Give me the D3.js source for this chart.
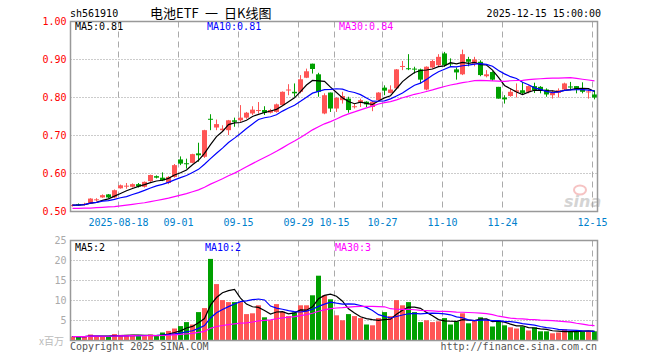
<!DOCTYPE html>
<html><head><meta charset="utf-8">
<script src="https://cdn.jsdelivr.net/npm/d3@7"></script>
<style>body{margin:0;background:#fff}svg{display:block}</style>
</head><body><svg id="c" width="660" height="360"></svg>
<script>
const dates = ["2025-08-06","2025-08-07","2025-08-08","2025-08-11","2025-08-12","2025-08-13","2025-08-14","2025-08-15","2025-08-18","2025-08-19","2025-08-20","2025-08-21","2025-08-22","2025-08-25","2025-08-26","2025-08-27","2025-08-28","2025-08-29",
"2025-09-01","2025-09-02","2025-09-03","2025-09-04","2025-09-05","2025-09-08","2025-09-09","2025-09-10","2025-09-11","2025-09-12","2025-09-15","2025-09-16","2025-09-17","2025-09-18","2025-09-19","2025-09-22","2025-09-23","2025-09-24","2025-09-25","2025-09-26","2025-09-29","2025-09-30",
"2025-10-09","2025-10-10","2025-10-13","2025-10-14","2025-10-15","2025-10-16","2025-10-17","2025-10-20","2025-10-21","2025-10-22","2025-10-23","2025-10-24","2025-10-27","2025-10-28","2025-10-29","2025-10-30","2025-10-31",
"2025-11-03","2025-11-04","2025-11-05","2025-11-06","2025-11-07","2025-11-10","2025-11-11","2025-11-12","2025-11-13","2025-11-14","2025-11-17","2025-11-18","2025-11-19","2025-11-20","2025-11-21","2025-11-24","2025-11-25","2025-11-26","2025-11-27","2025-11-28",
"2025-12-01","2025-12-02","2025-12-03","2025-12-04","2025-12-05","2025-12-08","2025-12-09","2025-12-10","2025-12-11","2025-12-12","2025-12-15"];

const open = [0.515,0.519,0.519,0.521,0.530,0.537,0.545,0.537,0.561,0.567,
0.565,0.572,0.565,0.580,0.593,0.589,0.575,0.591,0.637,0.627,
0.628,0.653,0.644,0.744,0.721,0.714,0.714,0.740,0.740,0.747,
0.758,0.766,0.767,0.760,0.762,0.780,0.820,0.815,0.815,0.852,
0.889,0.861,0.758,0.813,0.771,0.793,0.797,0.776,0.788,0.789,
0.775,0.793,0.826,0.812,0.824,0.882,0.877,0.876,0.874,0.821,
0.879,0.885,0.916,0.890,0.874,0.861,0.901,0.889,0.894,0.856,
0.867,0.828,0.800,0.804,0.815,0.819,0.815,0.830,0.828,0.821,
0.806,0.812,0.821,0.829,0.830,0.821,0.815,0.808];

const close = [0.517,0.517,0.520,0.534,0.532,0.543,0.537,0.556,0.569,0.568,
0.572,0.566,0.578,0.596,0.589,0.582,0.591,0.622,0.626,0.626,
0.651,0.648,0.714,0.742,0.730,0.718,0.740,0.736,0.747,0.760,
0.768,0.767,0.760,0.767,0.782,0.815,0.821,0.811,0.848,0.869,
0.875,0.815,0.806,0.771,0.799,0.804,0.767,0.777,0.793,0.782,
0.789,0.813,0.818,0.821,0.874,0.883,0.876,0.875,0.847,0.881,
0.896,0.907,0.885,0.889,0.866,0.914,0.894,0.900,0.859,0.861,
0.847,0.797,0.795,0.815,0.819,0.812,0.830,0.819,0.818,0.808,
0.812,0.819,0.837,0.828,0.821,0.815,0.816,0.800];

const high = [0.519,0.521,0.523,0.535,0.535,0.545,0.546,0.558,0.571,0.575,
0.574,0.575,0.579,0.597,0.595,0.603,0.593,0.625,0.645,0.639,
0.652,0.681,0.715,0.756,0.742,0.727,0.741,0.747,0.780,0.762,
0.777,0.788,0.777,0.770,0.784,0.816,0.835,0.837,0.859,0.876,
0.889,0.865,0.811,0.813,0.801,0.815,0.802,0.784,0.797,0.790,
0.791,0.814,0.832,0.832,0.875,0.896,0.914,0.881,0.876,0.882,
0.900,0.914,0.920,0.903,0.879,0.926,0.907,0.907,0.898,0.872,
0.869,0.828,0.806,0.824,0.837,0.841,0.832,0.839,0.830,0.824,
0.819,0.824,0.839,0.841,0.830,0.840,0.821,0.819];

const low = [0.513,0.515,0.516,0.520,0.527,0.536,0.535,0.535,0.560,0.560,
0.563,0.563,0.563,0.578,0.587,0.580,0.572,0.589,0.622,0.613,
0.627,0.631,0.641,0.714,0.714,0.710,0.701,0.723,0.736,0.744,
0.754,0.758,0.754,0.758,0.760,0.778,0.806,0.802,0.811,0.851,
0.863,0.802,0.756,0.762,0.762,0.784,0.760,0.771,0.775,0.775,
0.764,0.791,0.806,0.811,0.822,0.872,0.872,0.863,0.837,0.819,
0.876,0.882,0.881,0.880,0.847,0.859,0.882,0.882,0.856,0.853,
0.844,0.797,0.784,0.802,0.800,0.809,0.811,0.812,0.811,0.802,
0.797,0.800,0.818,0.819,0.811,0.811,0.797,0.795];

// volume, in millions (x百万)
const volume = [1.0,0.9,1.0,1.5,1.0,1.0,1.0,1.6,1.4,1.4,
1.4,1.1,1.1,1.5,1.1,2.0,2.4,3.0,3.6,4.6,
4.0,7.1,8.1,20.4,14.1,10.1,9.6,9.6,9.6,6.6,
6.8,8.8,5.8,5.1,9.1,7.2,6.1,7.0,8.8,8.8,
11.3,16.2,11.3,10.3,6.3,5.05,6.6,6.1,5.6,4.0,
3.8,5.6,7.1,6.1,10.1,8.8,9.6,7.1,4.6,5.05,
4.6,4.8,5.6,4.0,4.8,6.8,4.3,5.05,5.8,5.05,
3.5,4.8,3.8,3.3,3.0,3.5,2.5,3.3,2.3,2.3,
1.8,2.0,2.8,2.3,2.3,2.3,2.3,2.3];

// MA30 of price for the first 29 days (needs history before the window)
const ma30Head = [0.508,0.508,0.509,0.509,0.510,0.511,0.512,0.513,0.515,0.517,
0.519,0.521,0.523,0.526,0.529,0.532,0.535,0.539,0.543,0.547,
0.552,0.557,0.564,0.572,0.579,0.586,0.594,0.601,0.609];

const priceTicks = [0.5,0.6,0.7,0.8,0.9,1.0];
const volTicks = [5,10,15,20,25];
const tickDates = ["2025-08-18","2025-09-01","2025-09-15","2025-09-29","2025-10-15","2025-10-27","2025-11-10","2025-11-24","2025-12-15"];
const tickLabels = ["2025-08-18","09-01","09-15","09-29","10-15","10-27","11-10","11-24","12-15"];

const legendPrice = ["MA5:0.81","MA10:0.81","MA30:0.84"];
const legendVol = ["MA5:2","MA10:2","MA30:3"];

// ---------- drawing ----------
const svg = d3.select("#c");
const MONO = "'DejaVu Sans Mono', 'Liberation Mono', monospace";
const CJK = "'Noto Sans CJK SC', sans-serif";
const RED = "#ff5555", GREEN = "#00a000";
const L = 70.5, R = 597.5, T = 21.5, B = 211.5, VT = 240.5, VB = 340.5;

const x = d3.scaleBand().domain(dates).range([69.5, 69.5 + 6 * dates.length]).padding(0);
const cx = d => x(d) + x.bandwidth() / 2;
const y = d3.scaleLinear().domain([0.5, 1.0]).range([B, T]);
const yv = d3.scaleLinear().domain([0, 25]).range([VB, VT]);

function movingAvg(arr, n, head) {
  return arr.map((v, i) => {
    if (head && i < head.length) return head[i];
    return d3.mean(arr.slice(Math.max(0, i - n + 1), i + 1));
  });
}
const isUp = i => close[i] >= open[i];

// clip paths
const defs = svg.append("defs");
defs.append("clipPath").attr("id", "clipP").append("rect").attr("x", L).attr("y", T).attr("width", R - L).attr("height", B - T);
defs.append("clipPath").attr("id", "clipV").append("rect").attr("x", L).attr("y", VT).attr("width", R - L).attr("height", VB - VT);

// header
svg.append("text").attr("x", 70).attr("y", 16.5).attr("font-family", MONO).attr("font-size", 10).attr("fill", "#000").text("sh561910");
const title = svg.append("text").attr("y", 17.5).attr("font-family", CJK).attr("font-size", 13).attr("fill", "#000");
title.append("tspan").attr("x", 150).text("电池ETF");
title.append("tspan").attr("x", 205).text("一");
title.append("tspan").attr("x", 224).text("日K线图");
svg.append("text").attr("x", 601).attr("y", 16.5).attr("text-anchor", "end").attr("font-family", MONO).attr("font-size", 10).attr("fill", "#000").text("2025-12-15 15:00:00");

// grids - price
const gP = svg.append("g");
gP.selectAll("line.h").data(priceTicks.filter(t => t > 0.5 && t < 1.0)).join("line")
  .attr("x1", L).attr("x2", R).attr("y1", d => y(d)).attr("y2", d => y(d))
  .attr("stroke", "#999").attr("stroke-dasharray", "1,2");
gP.selectAll("line.v").data(tickDates).join("line")
  .attr("x1", d => cx(d) - 2).attr("x2", d => cx(d) - 2).attr("y1", T).attr("y2", B)
  .attr("stroke", "#aaa").attr("stroke-dasharray", "6,4");

// grids - volume
const gV = svg.append("g");
gV.selectAll("line.h").data(volTicks.filter(t => t < 25)).join("line")
  .attr("x1", L).attr("x2", R).attr("y1", d => yv(d)).attr("y2", d => yv(d))
  .attr("stroke", "#999").attr("stroke-dasharray", "1,2");
gV.selectAll("line.v").data(tickDates).join("line")
  .attr("x1", d => cx(d) - 2).attr("x2", d => cx(d) - 2).attr("y1", VT).attr("y2", VB)
  .attr("stroke", "#aaa").attr("stroke-dasharray", "6,4");

// watermark
const wm = svg.append("g").attr("opacity", 0.5);
wm.append("ellipse").attr("cx", 580).attr("cy", 190).attr("rx", 6).attr("ry", 4.5).attr("fill", "none").attr("stroke", "#e88").attr("stroke-width", 2);
wm.append("text").attr("x", 564).attr("y", 207).attr("font-family", "'DejaVu Sans', sans-serif").attr("font-style", "italic").attr("font-weight", "bold").attr("font-size", 16).attr("fill", "#aaa").text("sina");

// candles
const gc = svg.append("g").attr("clip-path", "url(#clipP)");
const idx = d3.range(dates.length);
gc.selectAll("line.w").data(idx).join("line")
  .attr("x1", i => cx(dates[i])).attr("x2", i => cx(dates[i]))
  .attr("y1", i => y(high[i])).attr("y2", i => y(low[i]))
  .attr("stroke", i => isUp(i) ? RED : GREEN).attr("stroke-width", 1);
gc.selectAll("rect.b").data(idx).join("rect")
  .attr("x", i => x(dates[i]) + 0.5).attr("width", 5)
  .attr("y", i => y(Math.max(open[i], close[i])))
  .attr("height", i => Math.max(1, y(Math.min(open[i], close[i])) - y(Math.max(open[i], close[i]))))
  .attr("fill", i => isUp(i) ? RED : GREEN);

// price MAs
const maLine = d3.line().x((d, i) => cx(dates[i])).y(d => y(d));
const maDefs = [[movingAvg(close, 5), "#000"], [movingAvg(close, 10), "#0000ff"], [movingAvg(close, 30, ma30Head), "#ff00ff"]];
maDefs.forEach(([vals, col]) => gc.append("path").datum(vals).attr("d", maLine).attr("fill", "none").attr("stroke", col).attr("stroke-width", 1.2));

// volume bars
const gvb = svg.append("g").attr("clip-path", "url(#clipV)");
gvb.selectAll("rect").data(idx).join("rect")
  .attr("x", i => x(dates[i]) + 0.5).attr("width", 5)
  .attr("y", i => yv(volume[i])).attr("height", i => yv(0) - yv(volume[i]))
  .attr("fill", i => isUp(i) ? RED : GREEN);
const vLine = d3.line().x((d, i) => cx(dates[i])).y(d => yv(d));
[[movingAvg(volume, 5), "#000"], [movingAvg(volume, 10), "#0000ff"], [movingAvg(volume, 30), "#ff00ff"]]
  .forEach(([vals, col]) => gvb.append("path").datum(vals).attr("d", vLine).attr("fill", "none").attr("stroke", col).attr("stroke-width", 1.2));

// frames
svg.append("rect").attr("x", L).attr("y", T).attr("width", R - L).attr("height", B - T).attr("fill", "none").attr("stroke", "#999").attr("stroke-width", 1.5);
svg.append("rect").attr("x", L).attr("y", VT).attr("width", R - L).attr("height", VB - VT).attr("fill", "none").attr("stroke", "#999").attr("stroke-width", 1.5);

// axes
const ay = svg.append("g").attr("transform", `translate(${L},0)`)
  .call(d3.axisLeft(y).tickValues(priceTicks).tickFormat(d3.format(".2f")).tickSize(0).tickPadding(4));
ay.select(".domain").remove();
ay.selectAll("text").attr("font-family", MONO).attr("font-size", 10).attr("fill", "#ff0000");

const av = svg.append("g").attr("transform", `translate(${L},0)`)
  .call(d3.axisLeft(yv).tickValues(volTicks).tickSize(0).tickPadding(4));
av.select(".domain").remove();
av.selectAll("text").attr("font-family", MONO).attr("font-size", 10).attr("fill", "#aaa");

const ax = svg.append("g").attr("transform", `translate(-2,${B})`)
  .call(d3.axisBottom(x).tickValues(tickDates).tickFormat((d) => tickLabels[tickDates.indexOf(d)]).tickSize(0).tickPadding(7));
ax.select(".domain").remove();
ax.selectAll("text").attr("font-family", MONO).attr("font-size", 10).attr("fill", "#0080cc");

// legends
const legX = [75, 207, 339], legXV = [75, 205, 335], legC = ["#000", "#0000ff", "#ff00ff"];
legendPrice.forEach((t, i) => svg.append("text").attr("x", legX[i]).attr("y", 30).attr("font-family", MONO).attr("font-size", 10).attr("fill", legC[i]).text(t));
legendVol.forEach((t, i) => svg.append("text").attr("x", legXV[i]).attr("y", 250.5).attr("font-family", MONO).attr("font-size", 10).attr("fill", legC[i]).text(t));

// footer
svg.append("text").attr("x", 64).attr("y", 345).attr("text-anchor", "end").attr("font-family", CJK).attr("font-size", 10).attr("fill", "#bbb").text("x百万");
svg.append("text").attr("x", 70).attr("y", 349.5).attr("font-family", MONO).attr("font-size", 10).attr("fill", "#555").text("Copyright 2025 SINA.COM");
svg.append("text").attr("x", 597).attr("y", 349.5).attr("text-anchor", "end").attr("font-family", MONO).attr("font-size", 10).attr("fill", "#555").text("http://finance.sina.com.cn");
</script>
</body></html>
